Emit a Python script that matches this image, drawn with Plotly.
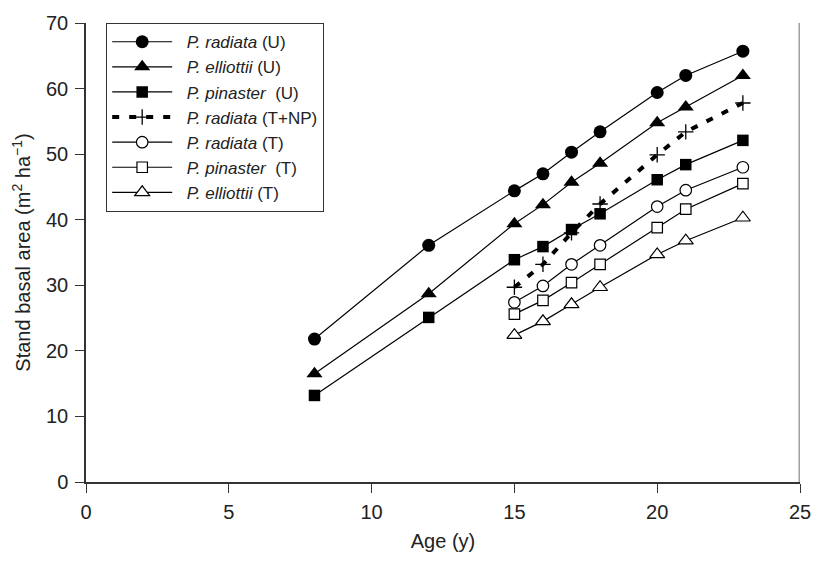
import plotly.graph_objects as go

ages_u = [8, 12, 15, 16, 17, 18, 20, 21, 23]
ages_t = [15, 16, 17, 18, 20, 21, 23]

radiata_u = [21.8, 36.1, 44.4, 47.0, 50.3, 53.4, 59.4, 62.0, 65.7]
elliottii_u = [16.5, 28.7, 39.4, 42.3, 45.7, 48.6, 54.8, 57.2, 62.0]
pinaster_u = [13.2, 25.1, 33.9, 35.9, 38.5, 40.9, 46.1, 48.4, 52.1]
radiata_tnp = [29.7, 33.2, 38.0, 42.4, 49.9, 53.4, 57.8]
radiata_t = [27.4, 29.9, 33.2, 36.1, 42.0, 44.5, 48.0]
pinaster_t = [25.6, 27.7, 30.4, 33.2, 38.8, 41.6, 45.5]
elliottii_t = [22.4, 24.5, 27.1, 29.7, 34.7, 36.8, 40.3]

names = [
    "&nbsp;&nbsp;<i>P. radiata</i> (U)",
    "&nbsp;&nbsp;<i>P. elliottii</i> (U)",
    "&nbsp;&nbsp;<i>P. pinaster</i>&nbsp; (U)",
    "&nbsp;&nbsp;<i>P. radiata</i> (T+NP)",
    "&nbsp;&nbsp;<i>P. radiata</i> (T)",
    "&nbsp;&nbsp;<i>P. pinaster</i>&nbsp; (T)",
    "&nbsp;&nbsp;<i>P. elliottii</i> (T)",
]

fig = go.Figure()
line = dict(color="black", width=1.2)

fig.add_trace(go.Scatter(x=ages_u, y=radiata_u, name=names[0], mode="lines+markers",
                         line=line, marker=dict(symbol="circle", size=13, color="black")))
fig.add_trace(go.Scatter(x=ages_u, y=elliottii_u, name=names[1], mode="lines+markers",
                         line=line, marker=dict(symbol="triangle-up", size=14, color="black")))
fig.add_trace(go.Scatter(x=ages_u, y=pinaster_u, name=names[2], mode="lines+markers",
                         line=line, marker=dict(symbol="square", size=11.5, color="black")))
fig.add_trace(go.Scatter(x=ages_t, y=radiata_tnp, name=names[3], mode="lines+markers",
                         line=dict(color="black", width=4, dash="7px,10px"),
                         marker=dict(symbol="cross-thin-open", size=11, color="black",
                                     line=dict(color="black", width=1.3))))
fig.add_trace(go.Scatter(x=ages_t, y=radiata_t, name=names[4], mode="lines+markers",
                         line=line, marker=dict(symbol="circle", size=11.5, color="white",
                                                line=dict(color="black", width=1.2))))
fig.add_trace(go.Scatter(x=ages_t, y=pinaster_t, name=names[5], mode="lines+markers",
                         line=line, marker=dict(symbol="square", size=10.5, color="white",
                                                line=dict(color="black", width=1.2))))
fig.add_trace(go.Scatter(x=ages_t, y=elliottii_t, name=names[6], mode="lines+markers",
                         line=line, marker=dict(symbol="triangle-up", size=13, color="white",
                                                line=dict(color="black", width=1.2))))

axis_common = dict(showline=True, linecolor="#333333", linewidth=1.5, ticks="outside",
                   ticklen=9, tickcolor="#333333", tickwidth=1.2, showgrid=False,
                   zeroline=False, tickfont=dict(size=20, color="#222222"))

fig.update_layout(
    width=823, height=565,
    margin=dict(l=86, r=15, t=17, b=83),
    plot_bgcolor="white", paper_bgcolor="white",
    font=dict(family="Liberation Sans, Arial, sans-serif", size=17, color="#222222"),
    xaxis=dict(range=[0, 25], dtick=5, ticklabelstandoff=2,
               title=dict(text="Age (y)", standoff=12, font=dict(size=20)),
               **axis_common),
    yaxis=dict(range=[0, 70], dtick=10, ticklabelstandoff=3,
               title=dict(text="Stand basal area (m<sup>2</sup> ha<sup>−1</sup>)", standoff=10,
                          font=dict(size=20)),
               **axis_common),
    legend=dict(x=0.028, y=1.0, xanchor="left", yanchor="top", bgcolor="white",
                bordercolor="#333333", borderwidth=1.2, font=dict(size=17),
                itemwidth=60, tracegroupgap=0),
    shapes=[dict(type="line", xref="x", yref="paper", x0=25, x1=25, y0=0, y1=1.0,
                 line=dict(color="#9aa0a8", width=3))],
)

fig.write_html("out.html")
